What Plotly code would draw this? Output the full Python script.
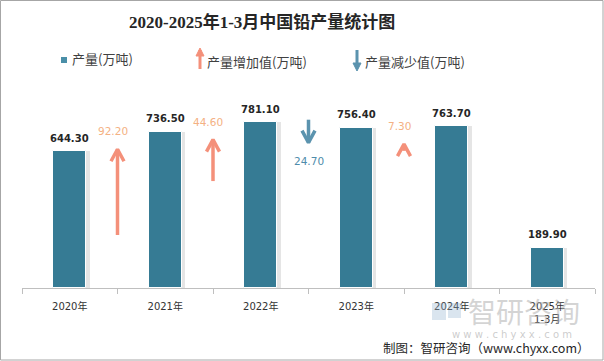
import plotly.graph_objects as go

# ---- data ----
categories = ["2020年", "2021年", "2022年", "2023年", "2024年", "2025年<br>1-3月"]
production = [644.30, 736.50, 781.10, 756.40, 763.70, 189.90]
change_values = [92.20, 44.60, -24.70, 7.30]          # change between consecutive years
change_base = [57, 115, 181, 147.5]                    # arrow start level on the secondary scale

BAR_COLOR = "#367B94"
UP_COLOR = "#F4907A"
UP_TEXT = "#F4B183"
DOWN_COLOR = "#5B93AE"
DOWN_TEXT = "#4E8CAB"

W, H = 604, 361
L, R, T, B = 22, 9, 76, 73
PW, PH = W - L - R, H - T - B


def px(x):
    return (x - L) / PW


def py(y):
    return (H - B - y) / PH


fig = go.Figure()

# bar shadow
fig.add_trace(go.Bar(
    x=categories, y=production, width=0.345, offset=-0.135,
    marker=dict(color="rgba(0,0,0,0.10)", line=dict(width=0)),
    hoverinfo="skip", showlegend=False,
))
# bars
fig.add_trace(go.Bar(
    x=categories, y=production, width=0.345, offset=-0.1725,
    marker=dict(color=BAR_COLOR, line=dict(color="white", width=1)),
    showlegend=False,
))

# arrows on overlay axes
head_h = 12.9
head_w = 0.068
annotations = []
for i, (chg, base) in enumerate(zip(change_values, change_base)):
    xc = i + 0.5
    tip = base + chg
    up = chg > 0
    col = UP_COLOR if up else DOWN_COLOR
    hy = tip - head_h if up else tip + head_h
    fig.add_trace(go.Scatter(
        x=[xc, xc, None, xc - head_w, xc, xc + head_w],
        y=[base, tip, None, hy, tip, hy],
        xaxis="x2", yaxis="y2", mode="lines",
        line=dict(color=col, width=3.5), showlegend=False, hoverinfo="skip",
    ))
    annotations.append(dict(
        x=xc, y=tip, xref="x2", yref="y2", text=f"{abs(chg):.2f}",
        showarrow=False, yshift=18 if up else -18, xshift=-5 if up else 0,
        xanchor="center", yanchor="middle",
        font=dict(family="DejaVu Sans", size=10.5, color=UP_TEXT if up else DOWN_TEXT),
    ))

# bar value labels
for c, v in zip(categories, production):
    annotations.append(dict(
        x=c, y=v, xref="x", yref="y", text=f"{v:.2f}", showarrow=False, yshift=13,
        xanchor="center", yanchor="middle",
        font=dict(family="DejaVu Sans", size=10, color="#262626", weight="bold"),
    ))


def paper_text(x, y, text, font, xanchor="center"):
    return dict(x=px(x), y=py(y), xref="paper", yref="paper", text=text, showarrow=False,
                xanchor=xanchor, yanchor="middle", font=font)


legend_font = dict(family="Noto Sans CJK SC", size=13, color="#404040")
annotations += [
    paper_text(262, 22, "<b>2020-2025年1-3月中国铅产量统计图</b>",
               dict(family="Liberation Serif, Noto Sans CJK SC", size=17, color="#262626")),
    paper_text(70, 59, "产量(万吨)", legend_font, "left"),
    paper_text(205, 61, "产量增加值(万吨)", legend_font, "left"),
    paper_text(363, 62, "产量减少值(万吨)", legend_font, "left"),
    # watermark
    paper_text(524, 311, "智研咨询", dict(family="Noto Sans CJK SC", size=28, color="rgba(170,170,170,0.5)")),
    paper_text(512, 334, "w w w . c h y x x . c o m", dict(family="DejaVu Sans", size=10, color="rgba(170,170,170,0.6)")),
    # source
    paper_text(592, 347, "制图：智研咨询（www.chyxx.com）",
               dict(family="Noto Sans CJK SC", size=12.5, color="#262626"), "right"),
]

shapes = [
    # outer border
    dict(type="rect", xref="paper", yref="paper", x0=px(0.5), x1=px(603), y0=py(360), y1=py(0.5),
         line=dict(color="#A6A6A6", width=1), fillcolor="rgba(0,0,0,0)", layer="below"),
    # legend square
    dict(type="rect", xref="paper", yref="paper", x0=px(61), x1=px(67), y0=py(63), y1=py(57),
         fillcolor="#4A8FA8", line=dict(width=0)),
    # legend up arrow
    dict(type="line", xref="paper", yref="paper", x0=px(200), x1=px(200), y0=py(69), y1=py(50),
         line=dict(color=UP_COLOR, width=3)),
    dict(type="path", xref="paper", yref="paper",
         path=f"M {px(196)} {py(56)} L {px(200)} {py(48)} L {px(204)} {py(56)} Z",
         fillcolor=UP_COLOR, line=dict(color=UP_COLOR, width=1)),
    # legend down arrow
    dict(type="line", xref="paper", yref="paper", x0=px(357), x1=px(357), y0=py(50), y1=py(68),
         line=dict(color=DOWN_COLOR, width=3)),
    dict(type="path", xref="paper", yref="paper",
         path=f"M {px(353)} {py(63)} L {px(357)} {py(71)} L {px(361)} {py(63)} Z",
         fillcolor=DOWN_COLOR, line=dict(color=DOWN_COLOR, width=1)),
    # watermark logo
    dict(type="rect", xref="paper", yref="paper", x0=px(432), x1=px(446), y0=py(320), y1=py(303),
         fillcolor="rgba(150,180,210,0.35)", line=dict(width=0)),
    dict(type="rect", xref="paper", yref="paper", x0=px(448), x1=px(461), y0=py(318), y1=py(303),
         fillcolor="rgba(150,180,210,0.35)", line=dict(width=0)),
]

fig.update_layout(
    width=W, height=H,
    margin=dict(l=L, r=R, t=T, b=B),
    paper_bgcolor="white", plot_bgcolor="white",
    barmode="overlay", bargap=0,
    showlegend=False,
    xaxis=dict(type="category", categoryorder="array", categoryarray=categories,
               tickson="boundaries", ticks="outside", ticklen=5, tickcolor="#BFBFBF",
               showline=True, linecolor="#BFBFBF", linewidth=1, showgrid=False,
               automargin=False, ticklabelstandoff=9,
               tickfont=dict(family="DejaVu Sans, Noto Sans CJK SC", size=10, color="#333333"),
               range=[-0.5, 5.5]),
    yaxis=dict(range=[0, 1000], visible=False, showgrid=False, automargin=False),
    xaxis2=dict(overlaying="x", range=[-0.5, 5.5], visible=False),
    yaxis2=dict(overlaying="y", range=[0, 228], visible=False),
    annotations=annotations,
    shapes=shapes,
)

fig.write_html("out.html", config={"displayModeBar": False},
               post_script="document.body.style.margin='0';document.body.style.padding='0';")
